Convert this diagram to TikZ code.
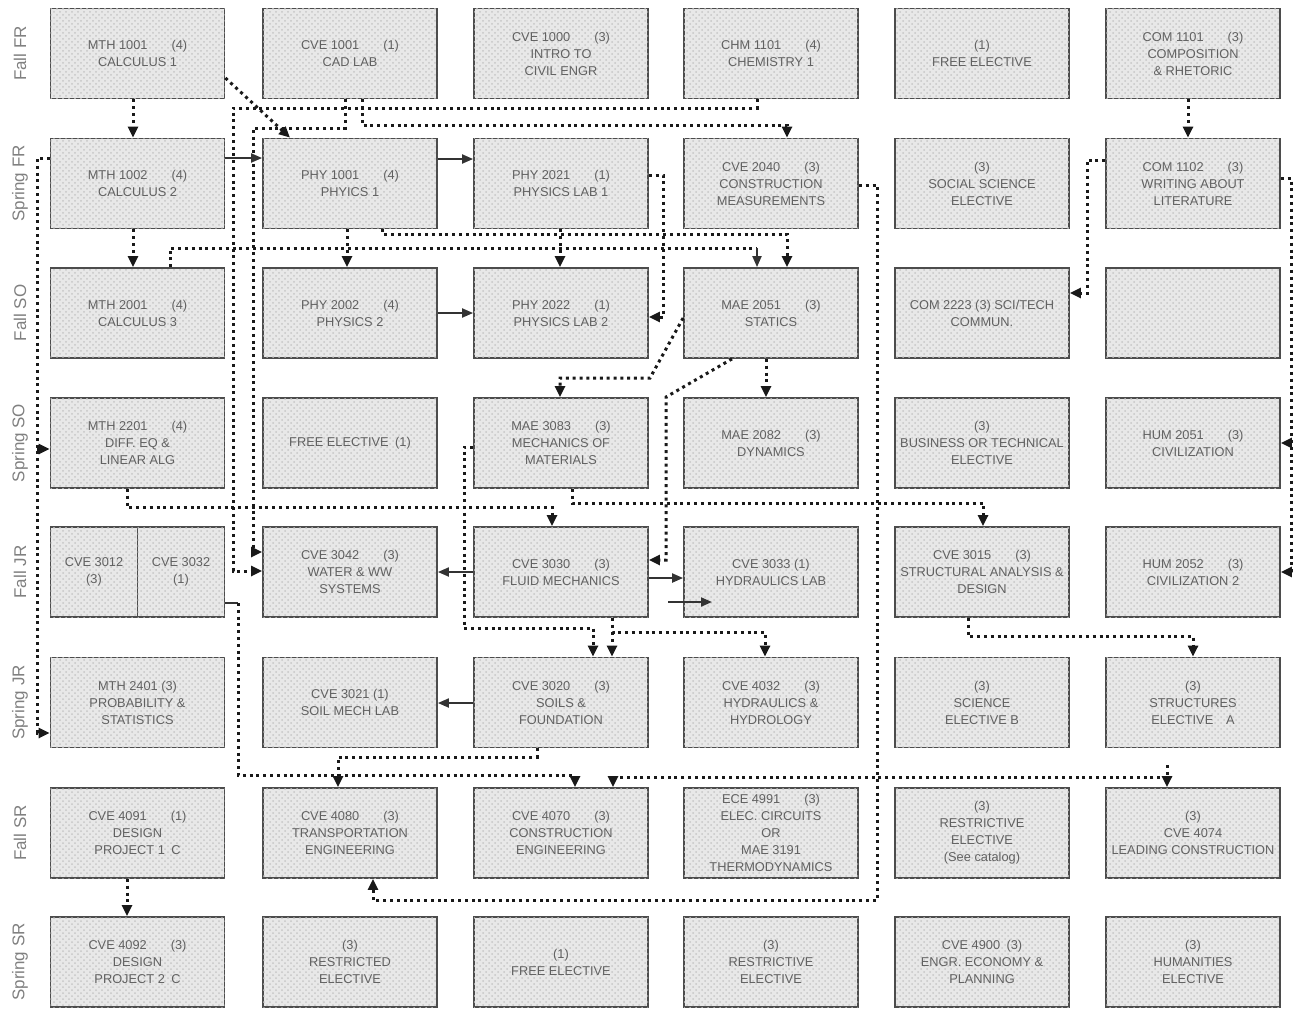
\documentclass[tikz,border=0pt]{standalone}
\usepackage{fontspec}
\setmainfont{Liberation Sans}
\usetikzlibrary{arrows.meta,patterns}
\newcommand{\cgap}{\hspace{12pt}}
\tikzset{
  course/.style={draw=black!70,line width=0.9pt,fill=black!9,
    postaction={pattern=crosshatch dots,pattern color=black!22},
    minimum width=87pt,minimum height=45pt,inner sep=1pt,
    align=center,text=black!62,font=\fontsize{6.4}{8.5}\selectfont},
  halfcourse/.style={course,minimum width=43.5pt},
  semester/.style={rotate=90,text=black!50,font=\fontsize{8.5}{10}\selectfont},
  dotline/.style={black!90,line width=1.5pt,dash pattern=on 1.5pt off 1.9pt},
  prereq/.style={dotline,-{Triangle[length=5.5pt,width=5pt]}},
  solidln/.style={black!80,line width=1pt},
  coreq/.style={solidln,-{Triangle[length=5.5pt,width=4.5pt]}}
}
\begin{document}
\begin{tikzpicture}[x=0.5pt,y=-0.5pt]
    \useasboundingbox (0,0) rectangle (1296,1008);
    %% semesters
    \node[semester] (fallfr) at (20,53.5) {Fall FR};
    \node[semester] (springfr) at (20,183.5) {Spring FR};
    \node[semester] (fallso) at (20,313) {Fall SO};
    \node[semester] (springso) at (20,443) {Spring SO};
    \node[semester] (falljr) at (20,572) {Fall JR};
    \node[semester] (springjr) at (20,702.5) {Spring JR};
    \node[semester] (fallsr) at (20,833) {Fall SR};
    \node[semester] (springsr) at (20,962) {Spring SR};
    %% Fall FR
    \node[course] (calc1) at (137.5,53.5) {MTH 1001\cgap(4)\\CALCULUS 1};
    \node[course] (cad) at (350,53.5) {CVE 1001\cgap(1)\\CAD LAB};
    \node[course] (intro) at (561,53.5) {CVE 1000\cgap(3)\\INTRO TO\\CIVIL ENGR};
    \node[course] (chem) at (771,53.5) {CHM 1101\cgap(4)\\CHEMISTRY 1};
    \node[course] (free1) at (982,53.5) {(1)\\FREE ELECTIVE};
    \node[course] (comp) at (1193,53.5) {COM 1101\cgap(3)\\COMPOSITION\\\& RHETORIC};
    %% Spring FR
    \node[course] (calc2) at (137.5,183.5) {MTH 1002\cgap(4)\\CALCULUS 2};
    \node[course] (phys1) at (350,183.5) {PHY 1001\cgap(4)\\PHYICS 1};
    \node[course] (plab1) at (561,183.5) {PHY 2021\cgap(1)\\PHYSICS LAB 1};
    \node[course] (cmeas) at (771,183.5) {CVE 2040\cgap(3)\\CONSTRUCTION\\MEASUREMENTS};
    \node[course] (socsci) at (982,183.5) {(3)\\SOCIAL SCIENCE\\ELECTIVE};
    \node[course] (write) at (1193,183.5) {COM 1102\cgap(3)\\WRITING ABOUT\\LITERATURE};
    %% Fall SO
    \node[course] (calc3) at (137.5,313) {MTH 2001\cgap(4)\\CALCULUS 3};
    \node[course] (phys2) at (350,313) {PHY 2002\cgap(4)\\PHYSICS 2};
    \node[course] (plab2) at (561,313) {PHY 2022\cgap(1)\\PHYSICS LAB 2};
    \node[course] (statics) at (771,313) {MAE 2051\cgap(3)\\STATICS};
    \node[course] (scitech) at (982,313) {COM 2223 (3) SCI/TECH\\COMMUN.};
    \node[course] (blank) at (1193,313) {};
    %% Spring SO
    \node[course] (diffeq) at (137.5,443) {MTH 2201\cgap(4)\\DIFF. EQ \&\\LINEAR ALG};
    \node[course] (free2) at (350,443) {FREE ELECTIVE\enspace(1)};
    \node[course] (mech) at (561,443) {MAE 3083\cgap(3)\\MECHANICS OF\\MATERIALS};
    \node[course] (dyn) at (771,443) {MAE 2082\cgap(3)\\DYNAMICS};
    \node[course] (bustech) at (982,443) {(3)\\BUSINESS OR TECHNICAL\\ELECTIVE};
    \node[course] (civ1) at (1193,443) {HUM 2051\cgap(3)\\CIVILIZATION};
    %% Fall JR
    \node[halfcourse] (cve3012) at (94,572) {CVE 3012\\(3)};
    \node[halfcourse] (cve3032) at (181,572) {CVE 3032\\(1)};
    \node[course] (water) at (350,572) {CVE 3042\cgap(3)\\WATER \& WW\\SYSTEMS};
    \node[course] (fluid) at (561,572) {CVE 3030\cgap(3)\\FLUID MECHANICS};
    \node[course] (hlab) at (771,572) {CVE 3033 (1)\\HYDRAULICS LAB};
    \node[course] (struct) at (982,572) {CVE 3015\cgap(3)\\STRUCTURAL ANALYSIS \&\\DESIGN};
    \node[course] (civ2) at (1193,572) {HUM 2052\cgap(3)\\CIVILIZATION 2};
    %% Spring JR
    \node[course] (prob) at (137.5,702.5) {MTH 2401 (3)\\PROBABILITY \&\\STATISTICS};
    \node[course] (soillab) at (350,702.5) {CVE 3021 (1)\\SOIL MECH LAB};
    \node[course] (soils) at (561,702.5) {CVE 3020\cgap(3)\\SOILS \&\\FOUNDATION};
    \node[course] (hydro) at (771,702.5) {CVE 4032\cgap(3)\\HYDRAULICS \&\\HYDROLOGY};
    \node[course] (scielec) at (982,702.5) {(3)\\SCIENCE\\ELECTIVE B};
    \node[course] (strelec) at (1193,702.5) {(3)\\STRUCTURES\\ELECTIVE\quad A};
    %% Fall SR
    \node[course] (des1) at (137.5,833) {CVE 4091\cgap(1)\\DESIGN\\PROJECT 1\enspace C};
    \node[course] (trans) at (350,833) {CVE 4080\cgap(3)\\TRANSPORTATION\\ENGINEERING};
    \node[course] (constr) at (561,833) {CVE 4070\cgap(3)\\CONSTRUCTION\\ENGINEERING};
    \node[course] (thermo) at (771,833) {ECE 4991\cgap(3)\\ELEC. CIRCUITS\\OR\\MAE 3191\\THERMODYNAMICS};
    \node[course] (restr1) at (982,833) {(3)\\RESTRICTIVE\\ELECTIVE\\(See catalog)};
    \node[course] (lead) at (1193,833) {(3)\\CVE 4074\\LEADING CONSTRUCTION};
    %% Spring SR
    \node[course] (des2) at (137.5,962) {CVE 4092\cgap(3)\\DESIGN\\PROJECT 2\enspace C};
    \node[course] (restr2) at (350,962) {(3)\\RESTRICTED\\ELECTIVE};
    \node[course] (free3) at (561,962) {(1)\\FREE ELECTIVE};
    \node[course] (restr3) at (771,962) {(3)\\RESTRICTIVE\\ELECTIVE};
    \node[course] (econ) at (982,962) {CVE 4900\enspace(3)\\ENGR. ECONOMY \&\\PLANNING};
    \node[course] (hum) at (1193,962) {(3)\\HUMANITIES\\ELECTIVE};
    %% free ends
    \coordinate (diffeqtap) at (37,449);
    \coordinate (staticsin) at (757,248);
    \coordinate (civtap) at (1291,443);
    \coordinate (soilstap) at (612,632);
    \coordinate (cve3032out) at (238,603);
    \coordinate (leadtick) at (1167,765);
    \coordinate (straya) at (668,602);
    \coordinate (strayb) at (712,602);
    %% prerequisites
    \draw[prereq] (calc1.south -| 133,0) -- (calc2.north -| 133,0);
    \draw[prereq] (calc1.east |- 0,78) -- (phys1.north -| 290,0);
    \draw[prereq] (cad.south -| 345,0) |- (253,128) |- (water.west |- 0,552);
    \draw[prereq] (chem.south -| 757,0) |- (233,108) |- (water.west |- 0,571);
    \draw[prereq] (cad.south -| 362,0) |- (787,125) -- (cmeas.north -| 787,0);
    \draw[prereq] (calc2.south -| 133,0) -- (calc3.north -| 133,0);
    \draw[prereq] (calc2.west |- 0,158) -| (37,733) -- (prob.west |- 0,733);
    \draw[prereq] (diffeqtap) -- (diffeq.west |- diffeqtap);
    \draw[dotline] (calc3.north -| 170,0) |- (staticsin);
    \draw[coreq] (staticsin) -- (statics.north -| staticsin);
    \draw[prereq] (phys1.south -| 347,0) -- (phys2.north -| 347,0);
    \draw[prereq] (phys1.south -| 382,0) |- (787,234) -- (statics.north -| 787,0);
    \draw[prereq] (plab1.south -| 560,0) -- (plab2.north -| 560,0);
    \draw[prereq] (plab1.east |- 0,175) -| (663,317) -- (plab2.east |- 0,317);
    \draw[prereq] (comp.south -| 1188,0) -- (write.north -| 1188,0);
    \draw[prereq] (write.west |- 0,160) -| (1087,293) -- (scitech.east |- 0,293);
    \draw[prereq] (write.east |- 0,178) -| (1291,572) -- (civ2.east |- 0,572);
    \draw[prereq] (civtap) -- (civ1.east |- civtap);
    \draw[prereq] (cmeas.east |- 0,185) -| (877,900) -| (trans.south -| 373,0);
    \draw[prereq] (statics.west |- 0,318) -- (650,378) -| (mech.north -| 560,0);
    \draw[prereq] (statics.south -| 766,0) -- (dyn.north -| 766,0);
    \draw[prereq] (statics.south -| 732,0) -- (666,397) |- (fluid.east |- 0,560);
    \draw[prereq] (mech.south -| 572,0) |- (983,503) -- (struct.north -| 983,0);
    \draw[prereq] (mech.west |- 0,447) -| (464,628) -| (soils.north -| 593,0);
    \draw[prereq] (diffeq.south -| 127,0) |- (552,507) -- (fluid.north -| 552,0);
    \draw[prereq] (fluid.south -| 612,0) |- (765,632) -- (hydro.north -| 765,0);
    \draw[prereq] (soilstap) -- (soils.north -| soilstap);
    \draw[solidln] (cve3032.east |- cve3032out) -- (cve3032out);
    \draw[prereq] (cve3032out) |- (575,775) -- (constr.north -| 575,0);
    \draw[prereq] (soils.south -| 537,0) |- (338,757) -- (trans.north -| 338,0);
    \draw[prereq] (struct.south -| 968,0) |- (1193,636) -- (strelec.north);
    \draw[prereq] (leadtick) -- (lead.north -| leadtick);
    \draw[prereq] (1167,777) -| (constr.north -| 613,0);
    \draw[prereq] (des1.south -| 127,0) -- (des2.north -| 127,0);
    %% co-requisites
    \draw[coreq] (calc2.east |- 0,158) -- (phys1.west |- 0,158);
    \draw[coreq] (phys1.east |- 0,159) -- (plab1.west |- 0,159);
    \draw[coreq] (phys2.east |- 0,313) -- (plab2.west |- 0,313);
    \draw[coreq] (fluid.west |- 0,572) -- (water.east |- 0,572);
    \draw[coreq] (fluid.east |- 0,578) -- (hlab.west |- 0,578);
    \draw[coreq] (straya) -- (strayb);
    \draw[coreq] (soils.west |- 0,703) -- (soillab.east |- 0,703);
\end{tikzpicture}
\end{document}
